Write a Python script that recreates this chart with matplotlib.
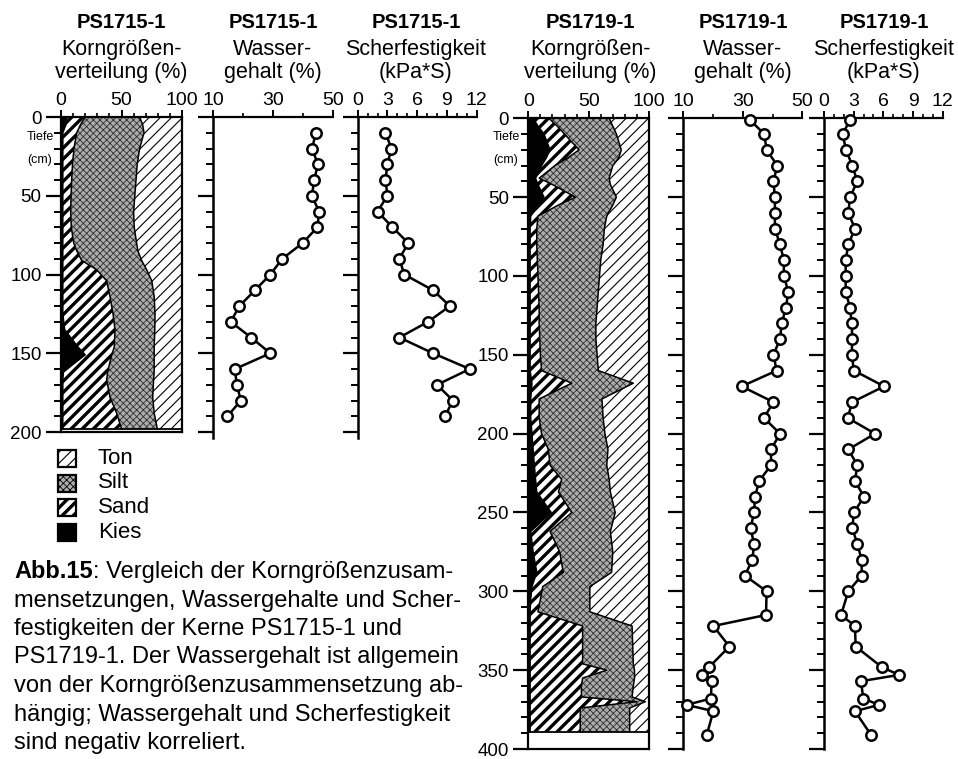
import numpy as np
import matplotlib.pyplot as plt
from matplotlib.ticker import MultipleLocator
from matplotlib.patches import Rectangle

# --- Kern PS1715-1: Korngrößen (kumulative Obergrenzen in %) ---
ps1715_tiefe = [0, 5, 10, 20, 30, 40, 50, 60, 70, 80, 85, 91, 97, 104, 114, 125,
                135, 146, 151, 157, 162, 167, 178, 188, 198]
ps1715_kies = [5, 4, 1.5, 1.5, 1.5, 1.5, 1.5, 1.5, 1.5, 1.5, 1.5, 1.5, 1.5, 1.5, 1.5, 1.5,
               3, 14, 20, 10, 2, 1.5, 1.5, 1.5, 1.5]
ps1715_sand = [20, 16, 13, 10.7, 9.5, 8.8, 8.3, 8, 8.5, 10.5, 13, 17, 29.5, 37.7, 40.5, 43,
               44.6, 44, 42, 40, 38.5, 37.7, 40.5, 46, 50]
ps1715_silt = [65, 67.5, 68.6, 65, 63, 62, 61, 60, 60.5, 62.5, 63.5, 66.6, 70.8, 75, 77, 77.7,
               77.5, 77, 77, 77, 77, 76.5, 75.8, 77, 79.6]

# --- Kern PS1715-1: Wassergehalt (%) und Scherfestigkeit (kPa*S) ---
ps1715_mess_tiefe = [10, 20, 30, 40, 50, 60, 70, 80, 90, 100, 110, 120, 130, 140, 150,
                     160, 170, 180, 190]
ps1715_wasser = [44.1, 43.0, 44.8, 43.7, 42.8, 45.3, 44.7, 39.8, 33.0, 29.0, 23.9, 18.7,
                 15.8, 22.6, 29.0, 17.2, 17.8, 19.2, 14.7]
ps1715_scher = [2.8, 3.4, 3.0, 2.8, 3.0, 2.0, 3.5, 5.1, 4.2, 4.7, 7.6, 9.3, 7.1, 4.2, 7.6,
                11.3, 8.0, 9.6, 8.8]

# --- Kern PS1719-1: Korngrößen (kumulative Obergrenzen in %) ---
ps1719_tiefe = [0, 5, 10, 20, 25, 30, 38, 42, 50, 55,
                62, 70, 80, 90, 100, 110, 120, 130, 140, 150,
                160, 168, 178, 190, 200, 210, 220, 229, 237, 250,
                262, 275, 288, 297, 305, 313, 322, 346, 350, 355,
                360, 367, 370, 374, 389]
ps1719_kies = [4, 8, 13, 18, 15, 11, 6, 8, 13, 8,
               2, 1.5, 1.5, 1.5, 1.5, 1.5, 1.5, 1.5, 1.5, 1.5,
               1.5, 3, 2, 2, 3, 4, 5, 6, 7, 19,
               2, 4, 7, 3, 2, 1.5, 1.5, 1.5, 1.5, 1.5,
               1.5, 1.5, 1.5, 1.5, 1.5]
ps1719_sand = [17, 24, 30, 42, 33, 22, 9, 20, 39, 25,
               8, 7, 7, 7.5, 8, 8.5, 9, 9, 9.5, 10,
               11, 36, 9, 9, 11, 16.6, 18, 27.6, 25, 36,
               18, 26, 29, 12, 10, 8, 45, 45, 65, 45,
               44, 44, 90, 43, 43]
ps1719_silt = [67, 70, 73, 77, 75, 70, 67, 68, 73, 70,
               65, 63, 62, 60, 59, 58, 57, 56, 56, 57,
               58, 87, 61, 62, 63.5, 66, 65, 67, 68, 72,
               68, 70, 69, 51, 51, 51, 86, 87, 88, 88,
               87, 86, 97, 84, 84]

# --- Kern PS1719-1: Wassergehalt (%) und Scherfestigkeit (kPa*S) ---
ps1719_mess_tiefe = [1, 10, 20, 30, 40, 50, 60, 70, 80, 90, 100, 110, 120, 130, 140, 150,
                     160, 170, 180, 190, 200, 210, 220, 230, 240, 250, 260, 270, 280, 290,
                     300, 315, 322, 335, 348, 353, 357, 368, 372, 376, 391]
ps1719_wasser = [32.4, 37.2, 38.0, 41.6, 40.3, 40.8, 40.8, 40.8, 42.5, 43.8, 43.8, 45.3,
                 44.5, 43.1, 42.5, 40.3, 41.4, 29.6, 40.3, 37.1, 42.5, 39.5, 39.5, 35.5,
                 34.1, 33.8, 32.6, 33.8, 33.2, 30.7, 38.0, 37.8, 20.1, 25.5, 18.7, 16.4,
                 19.5, 19.3, 11.1, 20.1, 17.9]
ps1719_scher = [2.63, 1.89, 2.22, 2.86, 3.37, 2.63, 2.46, 3.13, 2.46, 2.19, 2.19, 2.19,
                2.63, 2.8, 2.86, 2.8, 3.03, 6.07, 2.86, 2.39, 5.16, 2.46, 3.37, 3.13,
                4.04, 3.03, 2.86, 3.37, 3.81, 3.81, 2.46, 1.72, 3.13, 3.2, 5.83, 7.58,
                3.74, 3.97, 5.56, 3.13, 4.75]

legende = ['Ton', 'Silt', 'Sand', 'Kies']
caption = ["mensetzungen, Wassergehalte und Scher-",
           "festigkeiten der Kerne PS1715-1 und",
           "PS1719-1. Der Wassergehalt ist allgemein",
           "von der Korngrößenzusammensetzung ab-",
           "hängig; Wassergehalt und Scherfestigkeit",
           "sind negativ korreliert."]

W, H = 958, 759
plt.rcParams['font.family'] = ['Liberation Sans', 'DejaVu Sans']
fig = plt.figure(figsize=(W / 100, H / 100), dpi=100)
NARROW = ['Liberation Sans Narrow', 'Liberation Sans', 'DejaVu Sans']

# Stil der Flächen: Ton fein schraffiert, Silt gepunktet, Sand grob schraffiert, Kies schwarz
STYLE = {
    'Ton': dict(facecolor='white', edgecolor='black', hatch='///', hlw=0.8),
    'Silt': dict(facecolor='#acacac', edgecolor='#2e2e2e', hatch='xxxxx', hlw=0.6),
    'Sand': dict(facecolor='white', edgecolor='black', hatch='///', hlw=2.4),
    'Kies': dict(facecolor='black', edgecolor='black', hatch=None, hlw=1.0),
}


def px_axes(l, t, r, b):
    return fig.add_axes([l / W, 1 - b / H, (r - l) / W, (b - t) / H])


def styled(art, name):
    s = STYLE[name]
    art.set_facecolor(s['facecolor'])
    art.set_edgecolor(s['edgecolor'])
    if s['hatch']:
        art.set_hatch(s['hatch'])
    if hasattr(art, 'set_hatch_linewidth'):
        art.set_hatch_linewidth(s['hlw'])
    return art


def fill(ax, y, a, b, name):
    with plt.rc_context({'hatch.linewidth': STYLE[name]['hlw']}):
        c = ax.fill_betweenx(y, a, b, linewidth=0)
    styled(c, name)


def depth_axis(ax, dmax, labels):
    ax.yaxis.set_major_locator(MultipleLocator(50))
    ax.yaxis.set_minor_locator(MultipleLocator(10))
    ax.tick_params(axis='y', which='major', length=11, width=1.6, direction='out',
                   labelsize=13.5, pad=3, labelleft=labels, right=False)
    ax.tick_params(axis='y', which='minor', length=5, width=1.4, direction='out', right=False)
    ax.set_ylim(dmax, 0)


def top_axis(ax, lo, hi, major, minor):
    ax.set_xlim(lo, hi)
    ax.xaxis.tick_top()
    ax.set_xticks(major, [str(v) for v in major], fontfamily=NARROW, fontsize=14)
    ax.xaxis.set_minor_locator(MultipleLocator(minor))
    ax.tick_params(axis='x', which='major', length=5, width=1.4, direction='out', pad=1)
    ax.tick_params(axis='x', which='minor', length=3, width=1.2, direction='out')


def grain_panel(box, tiefe, kies, sand, silt, dmax):
    ax = px_axes(*box)
    fill(ax, tiefe, 0, kies, 'Kies')
    fill(ax, tiefe, kies, sand, 'Sand')
    fill(ax, tiefe, sand, silt, 'Silt')
    fill(ax, tiefe, silt, 100, 'Ton')
    for grenze in (kies, sand, silt):
        ax.plot(grenze, tiefe, color='black', lw=1.1)
    ax.hlines(tiefe[-1], 0, 100, color='black', lw=1.3)
    top_axis(ax, 0, 100, [0, 50, 100], 10)
    depth_axis(ax, dmax, True)
    for sp in ax.spines.values():
        sp.set_linewidth(1.6)
    return ax


def profile_panel(box, tiefe, werte, lo, hi, major, minor, dmax):
    ax = px_axes(*box)
    ax.plot(werte, tiefe, color='black', lw=1.8, marker='o', ms=7.5, mfc='white',
            mec='black', mew=1.8, clip_on=False, zorder=3)
    top_axis(ax, lo, hi, major, minor)
    depth_axis(ax, dmax, False)
    ax.spines['right'].set_visible(False)
    ax.spines['bottom'].set_visible(False)
    ax.spines['left'].set_linewidth(1.8)
    ax.spines['top'].set_linewidth(1.6)
    ax.patch.set_alpha(0)
    return ax


def titel(xc, zeilen):
    fig.text(xc / W, 1 - 28 / H, zeilen[0], ha='center', va='baseline',
             fontsize=14.5, fontweight='bold')
    fig.text(xc / W, 1 - 55 / H, zeilen[1], ha='center', va='baseline', fontsize=15.5)
    fig.text(xc / W, 1 - 78 / H, zeilen[2], ha='center', va='baseline', fontsize=15.5)


# PS1715-1
grain_panel((61, 117, 182, 432), ps1715_tiefe, ps1715_kies, ps1715_sand, ps1715_silt, 200)
profile_panel((213.3, 117, 333.3, 438), ps1715_mess_tiefe, ps1715_wasser,
              10, 50, [10, 30, 50], 10, 203.8)
profile_panel((357.7, 117, 476.7, 438), ps1715_mess_tiefe, ps1715_scher,
              0, 12, [0, 3, 6, 9, 12], 1, 203.8)

# PS1719-1
grain_panel((528.3, 118.3, 649, 749), ps1719_tiefe, ps1719_kies, ps1719_sand, ps1719_silt, 400)
profile_panel((683.3, 118.3, 802.3, 749), ps1719_mess_tiefe, ps1719_wasser,
              10, 50, [10, 30, 50], 10, 400)
profile_panel((824, 118.3, 942.7, 749), ps1719_mess_tiefe, ps1719_scher,
              0, 12, [0, 3, 6, 9, 12], 1, 400)

titel(121.5, ['PS1715-1', 'Korngrößen-', 'verteilung (%)'])
titel(273, ['PS1715-1', 'Wasser-', 'gehalt (%)'])
titel(416, ['PS1715-1', 'Scherfestigkeit', '(kPa*S)'])
titel(590, ['PS1719-1', 'Korngrößen-', 'verteilung (%)'])
titel(743, ['PS1719-1', 'Wasser-', 'gehalt (%)'])
titel(884, ['PS1719-1', 'Scherfestigkeit', '(kPa*S)'])

# Beschriftung der Tiefenachse
for xc in (40, 506):
    fig.text(xc / W, 1 - 137 / H, 'Tiefe', ha='center', va='center', fontsize=9,
             fontfamily=NARROW)
    fig.text(xc / W, 1 - 160 / H, '(cm)', ha='center', va='center', fontsize=9,
             fontfamily=NARROW)

# Legende
for i, name in enumerate(legende):
    top = 450 + i * 24.5
    r = Rectangle((58 / W, 1 - (top + 17) / H), 18 / W, 17 / H, transform=fig.transFigure,
                  linewidth=1.6)
    with plt.rc_context({'hatch.linewidth': STYLE[name]['hlw']}):
        styled(r, name)
    r.set_edgecolor('black')
    fig.add_artist(r)
    fig.text(98 / W, 1 - (top + 8.5) / H, name, ha='left', va='center', fontsize=16)

# Bildunterschrift
y0 = 578
abb = fig.text(14 / W, 1 - y0 / H, 'Abb.15', ha='left', va='baseline', fontsize=17,
               fontweight='bold')
fig.canvas.draw()
bb = abb.get_window_extent()
fig.text(bb.x1 / W, 1 - y0 / H, ': Vergleich der Korngrößenzusam-', ha='left',
         va='baseline', fontsize=17)
for i, zeile in enumerate(caption):
    fig.text(14 / W, 1 - (y0 + 28.5 * (i + 1)) / H, zeile, ha='left', va='baseline', fontsize=17)

fig.savefig('out.png', dpi=100)
